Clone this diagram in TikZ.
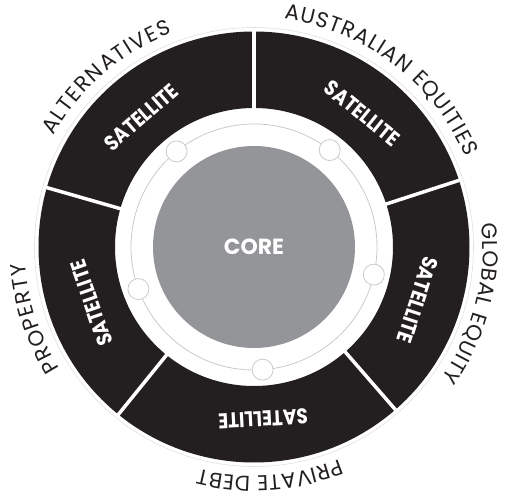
\documentclass[tikz,border=0pt]{standalone}
\usepackage{fontspec}
\setmainfont{Poppins}
\usetikzlibrary{decorations.text}
\definecolor{ink}{HTML}{231F20}
\definecolor{coregray}{HTML}{939598}
\definecolor{ringgray}{HTML}{C9CACC}
\newcommand{\satword}{\scalebox{0.86}[1]{SATELLITE}}
\newcommand{\outfont}{\fontsize{21.5}{21.5}\selectfont}
\begin{document}
\begin{tikzpicture}[
  satlabel/.style={text=white, font=\bfseries\fontsize{21.5}{21.5}\selectfont, inner sep=0pt},
  outerlabel/.style={decorate, decoration={text along path, text align=fit to path, text color=ink}},
  divider/.style={white, line width=3.5bp},
  dot/.style={circle, draw=ringgray, fill=white, line width=0.8bp, minimum size=21bp, inner sep=0pt},
  corestyle/.style={circle, fill=coregray, minimum size=202bp, inner sep=0pt, text=white, font=\bfseries\fontsize{22}{22}\selectfont},
]
\useasboundingbox (-254bp,-253bp) rectangle (251bp,247bp);
% faint halo
\draw[black!12, line width=0.6bp] (0,0) circle[radius=219.5bp];
% dark ring
\fill[ink, even odd rule] (0,0) circle[radius=215.5bp] (0,0) circle[radius=139bp];
\foreach \a in {90,18,-49,-129,164} \draw[divider] (\a:136bp) -- (\a:219bp);
% thin ring with dots
\draw[ringgray, line width=0.8bp] (0,0) circle[radius=123bp];
\node[dot] (d1) at (129:123bp) {};
\node[dot] (d2) at (52:123bp) {};
\node[dot] (d3) at (-13:123bp) {};
\node[dot] (d4) at (-86:123bp) {};
\node[dot] (d5) at (200:123bp) {};
% core
\node[corestyle] (core) at (0,0) {CORE};
% satellites
\node[satlabel, rotate=41] (s1) at (131:172bp) {\satword};
\node[satlabel, rotate=-39] (s2) at (51:172bp) {\satword};
\node[satlabel, rotate=-108] (s3) at (-18:172bp) {\satword};
\node[satlabel, rotate=-177] (s4) at (-87:172bp) {\satword};
\node[satlabel, rotate=109] (s5) at (199:172bp) {\satword};
% outer labels
\path[outerlabel, decoration={text={|\outfont|ALTERNATIVES}}]
  (151:229bp) arc[start angle=151, end angle=111, radius=229bp];
\path[outerlabel, decoration={text={|\outfont|AUSTRALIAN EQUITIES}}]
  (82.5:230bp) arc[start angle=82.5, end angle=23, radius=230bp];
\path[outerlabel, decoration={text={|\outfont|GLOBAL EQUITY}}]
  (6:229bp) arc[start angle=6, end angle=-35, radius=229bp];
\path[outerlabel, decoration={text={|\outfont|PRIVATE DEBT}}]
  (-68:229bp) arc[start angle=-68, end angle=-104, radius=229bp];
\path[outerlabel, decoration={text={|\outfont|PROPERTY}}]
  (212:229bp) arc[start angle=212, end angle=184, radius=229bp];
\end{tikzpicture}
\end{document}
